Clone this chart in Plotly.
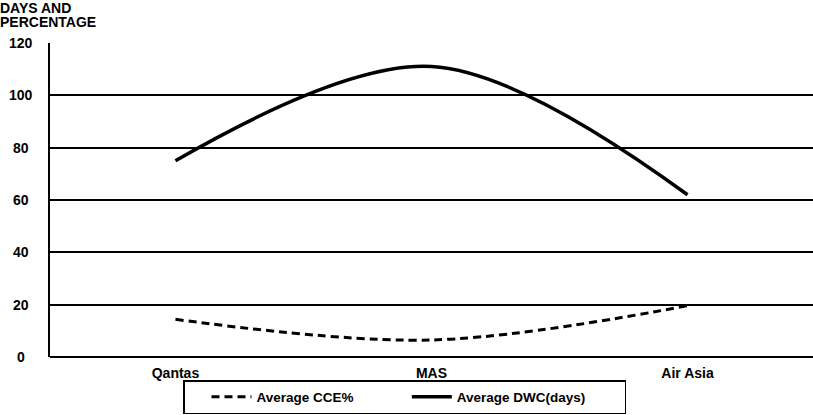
import plotly.graph_objects as go

categories = ["Qantas", "MAS", "Air Asia"]
cce_pct = [14.4, 6.5, 19.6]
dwc_days = [75, 111, 62]
y_ticks = [0, 20, 40, 60, 80, 100, 120]

FONT = "Liberation Sans, Arial, sans-serif"
NB = "\u00a0"

fig = go.Figure()
fig.add_trace(go.Scatter(
    x=categories, y=cce_pct, mode="lines", name="<b>Average CCE%</b>" + NB * 7,
    line=dict(color="black", width=3, dash="8px,5px", shape="spline", smoothing=1.0),
))
fig.add_trace(go.Scatter(
    x=categories, y=dwc_days, mode="lines", name="<b>Average DWC(days)</b>" + NB * 9,
    line=dict(color="black", width=3.5, shape="spline", smoothing=1.0),
))

annotations = []
for v in y_ticks:
    annotations.append(dict(
        x=-0.038, xref="paper", y=v, yref="y", text=f"<b>{v}</b>",
        showarrow=False, xanchor="center", yanchor="middle",
        font=dict(family=FONT, size=14, color="black"),
    ))
annotations.append(dict(
    x=0, xref="paper", y=1, yref="paper", text="<b>DAYS AND</b>", showarrow=False,
    xanchor="left", yanchor="middle", xshift=-51, yshift=35,
    font=dict(family=FONT, size=14, color="black"), borderpad=0,
))
annotations.append(dict(
    x=0, xref="paper", y=1, yref="paper", text="<b>PERCENTAGE</b>", showarrow=False,
    xanchor="left", yanchor="middle", xshift=-51, yshift=21,
    font=dict(family=FONT, size=14, color="black"), borderpad=0,
))

fig.update_layout(
    width=813, height=415,
    margin=dict(l=50, r=0, t=43, b=58, autoexpand=False),
    paper_bgcolor="white", plot_bgcolor="white",
    font=dict(family=FONT, size=14, color="black"),
    showlegend=True,
    legend=dict(
        orientation="h", x=(404.5 - 50) / 763, xanchor="center",
        y=1 - 414 / 415, yref="container", yanchor="bottom",
        bordercolor="black", borderwidth=1.5, bgcolor="white",
        font=dict(family=FONT, size=13.5, color="black"),
        itemwidth=40, tracegroupgap=0, indentation=22,
    ),
    xaxis=dict(
        type="category", range=[-0.49, 2.49], showgrid=False, zeroline=False,
        showline=False, ticks="", tickfont=dict(family=FONT, size=14, color="black"),
        tickprefix="<b>", ticksuffix="</b>", ticklabelstandoff=6,
    ),
    yaxis=dict(
        range=[0, 120], tickvals=y_ticks, showticklabels=False,
        showgrid=True, gridcolor="black", gridwidth=1.5, zeroline=True,
        zerolinecolor="black", zerolinewidth=1.5,
        showline=True, linecolor="black", linewidth=1.5, ticks="",
    ),
    annotations=annotations,
)

fig.write_html("out.html")
